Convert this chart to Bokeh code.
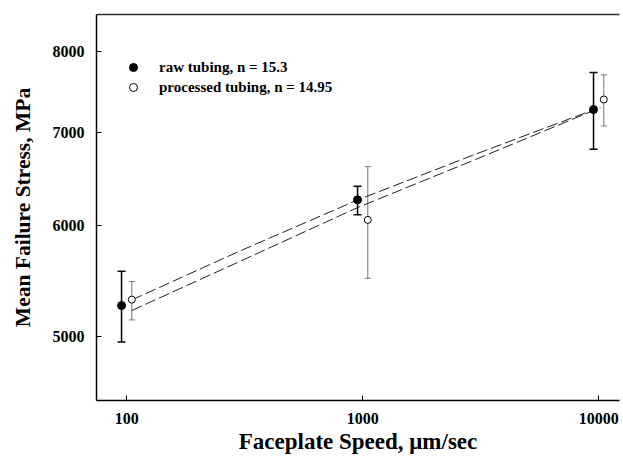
from bokeh.plotting import figure
from bokeh.models import (ColumnDataSource, Whisker, TeeHead, Legend, LegendItem,
                          FixedTicker, LogAxis)
from bokeh.embed import file_html
from bokeh.resources import INLINE

# ---- data ----
speed_raw = [95, 950, 9500]
raw_mean = [5262, 6263, 7268]
raw_upper = [5568, 6405, 7725]
raw_lower = [4956, 6110, 6807]

speed_proc = [105, 1050, 10500]
proc_mean = [5314, 6060, 7389]
proc_upper = [5474, 6616, 7694]
proc_lower = [5139, 5504, 7074]

fit_speed_a = [105, 300, 950, 3000, 9500]
fit_stress_a = [5311, 5755, 6262, 6752, 7264]
fit_speed_b = [105, 300, 950, 3000, 10170]
fit_stress_b = [5219, 5657, 6184, 6693, 7291]

x_ticks = [100, 1000, 10000]
x_tick_labels = ["100", "1000", "10000"]
y_ticks = [5000, 6000, 7000, 8000]
y_tick_labels = ["5000", "6000", "7000", "8000"]
x_lim = (74.4, 12240)
y_lim = (4500, 8500)

label_raw = "raw tubing, n = 15.3"
label_proc = "processed tubing, n = 14.95"
x_title = "Faceplate Speed, \u03bcm/sec"
y_title = "Mean Failure Stress, MPa"

FONT = "Liberation Serif"

p = figure(width=623, height=462, x_axis_type="log", y_axis_type="log",
           x_range=x_lim, y_range=y_lim, output_backend="svg",
           toolbar_location=None, min_border_left=96, min_border_right=4,
           min_border_top=14, min_border_bottom=62)
p.outline_line_color = None
p.grid.visible = False
p.background_fill_color = "white"
p.border_fill_color = "white"

xa = p.below[0]
ya = p.left[0]

# top frame line as a bare axis
top_axis = LogAxis(ticker=FixedTicker(ticks=[]), axis_line_color="#333333",
                   axis_line_width=1.5, major_tick_line_color=None,
                   minor_tick_line_color=None, major_label_text_font_size="0px",
                   major_label_standoff=0)
p.add_layout(top_axis, "above")

# fit curves
p.line(fit_speed_a, fit_stress_a, line_color="#222222", line_width=1,
       line_dash="11 4")
p.line(fit_speed_b, fit_stress_b, line_color="#222222", line_width=1,
       line_dash="11 4")

src_raw = ColumnDataSource(dict(x=speed_raw, y=raw_mean, up=raw_upper, lo=raw_lower))
src_proc = ColumnDataSource(dict(x=speed_proc, y=proc_mean, up=proc_upper, lo=proc_lower))

w_raw = Whisker(source=src_raw, base="x", upper="up", lower="lo",
                line_color="black", line_width=1.5,
                upper_head=TeeHead(size=8, line_color="black", line_width=1.5),
                lower_head=TeeHead(size=8, line_color="black", line_width=1.5))
w_proc = Whisker(source=src_proc, base="x", upper="up", lower="lo",
                 line_color="#777777", line_width=1,
                 upper_head=TeeHead(size=6, line_color="#777777", line_width=1),
                 lower_head=TeeHead(size=6, line_color="#777777", line_width=1))
p.add_layout(w_raw)
p.add_layout(w_proc)

r_raw = p.scatter("x", "y", source=src_raw, size=8, marker="circle",
                  fill_color="black", line_color="black")
r_proc = p.scatter("x", "y", source=src_proc, size=7, marker="circle",
                   fill_color="white", line_color="black", line_width=1)

legend = Legend(items=[LegendItem(label=label_raw, renderers=[r_raw]),
                       LegendItem(label=label_proc, renderers=[r_proc])],
                location=(27, 303), glyph_width=20, glyph_height=20,
                label_height=20, label_standoff=16, padding=0, margin=0,
                spacing=0, border_line_color=None, background_fill_alpha=0,
                label_text_font=FONT, label_text_font_style="bold",
                label_text_font_size="15px", label_text_color="black")
p.add_layout(legend)

for ax in (xa, ya):
    ax.axis_line_color = "black"
    ax.axis_line_width = 1.5
    ax.major_tick_in = 5
    ax.major_tick_out = 0
    ax.major_tick_line_color = "black"
    ax.minor_tick_line_color = None
    ax.major_label_text_font = FONT
    ax.major_label_text_font_style = "bold"
    ax.major_label_text_font_size = "16px"
    ax.major_label_text_color = "black"
    ax.axis_label_text_font = FONT
    ax.axis_label_text_font_style = "bold"
    ax.axis_label_text_color = "black"

xa.ticker = FixedTicker(ticks=x_ticks)
ya.ticker = FixedTicker(ticks=y_ticks)
xa.major_label_overrides = {t: s for t, s in zip(x_ticks, x_tick_labels)}
ya.major_label_overrides = {t: s for t, s in zip(y_ticks, y_tick_labels)}
xa.axis_label = x_title
ya.axis_label = y_title
xa.axis_label_text_font_size = "23px"
ya.axis_label_text_font_size = "21.5px"
xa.major_label_standoff = 12
xa.axis_label_standoff = 2
ya.major_label_standoff = 12
ya.axis_label_standoff = 15

open("out.html", "w").write(file_html(p, INLINE))
